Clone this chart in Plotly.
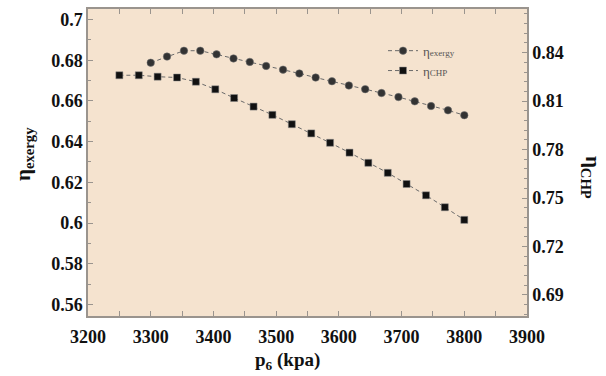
import plotly.graph_objects as go

# ---- data ----
p6_exergy = [3300, 3326, 3353, 3379, 3405, 3432, 3458, 3484, 3511, 3537,
             3563, 3589, 3616, 3642, 3668, 3695, 3721, 3747, 3774, 3800]
eta_exergy = [0.6788, 0.6818, 0.6847, 0.6847, 0.6829, 0.6809, 0.6792, 0.6772, 0.6754, 0.6735,
              0.6715, 0.6697, 0.6676, 0.6658, 0.6639, 0.6619, 0.6598, 0.6575, 0.6554, 0.6530]

p6_chp = [3250, 3281, 3311, 3342, 3372, 3403, 3433, 3464, 3494, 3525,
          3556, 3586, 3617, 3647, 3678, 3708, 3739, 3769, 3800]
eta_chp = [0.8260, 0.8260, 0.8251, 0.8246, 0.8220, 0.8173, 0.8119, 0.8066, 0.8015, 0.7957,
           0.7900, 0.7842, 0.7781, 0.7718, 0.7656, 0.7587, 0.7517, 0.7443, 0.7365]

x_ticks = [3200, 3300, 3400, 3500, 3600, 3700, 3800, 3900]
x_ticktext = ["3200", "3300", "3400", "3500", "3600", "3700", "3800", "3900"]
y1_ticks = [0.56, 0.58, 0.60, 0.62, 0.64, 0.66, 0.68, 0.70]
y1_ticktext = ["0.56", "0.58", "0.6", "0.62", "0.64", "0.66", "0.68", "0.7"]
y2_ticks = [0.69, 0.72, 0.75, 0.78, 0.81, 0.84]
y2_ticktext = ["0.69", "0.72", "0.75", "0.78", "0.81", "0.84"]

SERIF = "Times New Roman, Tinos, Liberation Serif, serif"
AXIS_COLOR = "#9a948e"
TICKFONT = dict(family=SERIF, size=18, color="#111111", weight="bold")

fig = go.Figure()
fig.add_trace(go.Scatter(
    x=p6_exergy, y=eta_exergy, mode="lines+markers",
    name="η<span style='font-size:9px'>exergy</span>",
    line=dict(color="#6a6a6a", width=1, dash="4px,3px"),
    marker=dict(symbol="circle", size=7.5, color="#333333",
                line=dict(color="#777777", width=0.5)),
    yaxis="y"))
fig.add_trace(go.Scatter(
    x=p6_chp, y=eta_chp, mode="lines+markers",
    name="η<span style='font-size:9px'>CHP</span>",
    line=dict(color="#6a6a6a", width=1, dash="4px,3px"),
    marker=dict(symbol="square", size=7, color="#111111",
                line=dict(color="#888888", width=0.5)),
    yaxis="y2"))

fig.update_layout(
    width=606, height=376,
    margin=dict(l=88, r=79, t=7, b=60),
    paper_bgcolor="white",
    plot_bgcolor="#f5e3cf",
    showlegend=True,
    legend=dict(x=0.672, y=0.913, xanchor="left", yanchor="top",
                bgcolor="rgba(0,0,0,0)", borderwidth=0,
                font=dict(family=SERIF, size=13, color="#555555"),
                tracegroupgap=0, itemwidth=30),
    xaxis=dict(range=[3200, 3900], tickvals=x_ticks, ticktext=x_ticktext,
               ticks="inside", ticklen=5, tickcolor=AXIS_COLOR, tickwidth=1,
               minor=dict(dtick=50, ticks="inside", ticklen=3, tickcolor=AXIS_COLOR),
               showline=True, linecolor=AXIS_COLOR, linewidth=1.5, mirror="allticks",
               showgrid=False, zeroline=False, ticklabelstandoff=4,
               tickfont=TICKFONT),
    yaxis=dict(range=[0.5543, 0.7052], tickvals=y1_ticks, ticktext=y1_ticktext,
               ticks="inside", ticklen=5, tickcolor=AXIS_COLOR, tickwidth=1,
               minor=dict(dtick=0.01, ticks="inside", ticklen=3, tickcolor=AXIS_COLOR),
               showline=True, linecolor=AXIS_COLOR, linewidth=1.5,
               showgrid=False, zeroline=False,
               tickfont=TICKFONT),
    yaxis2=dict(range=[0.677, 0.867], tickvals=y2_ticks, ticktext=y2_ticktext,
                overlaying="y", side="right",
                ticks="inside", ticklen=5, tickcolor=AXIS_COLOR, tickwidth=1,
                minor=dict(dtick=0.006, ticks="inside", ticklen=3, tickcolor=AXIS_COLOR),
                showline=True, linecolor=AXIS_COLOR, linewidth=1.5,
                showgrid=False, zeroline=False,
                tickfont=TICKFONT),
)

# axis titles
fig.add_annotation(text="<b>p<sub>6</sub> (kpa)</b>", xref="paper", yref="paper",
                   x=(287 - 88) / 439, y=-(361 - 316) / 309, showarrow=False,
                   xanchor="center", yanchor="middle",
                   font=dict(family=SERIF, size=19, color="#111111"))
fig.add_annotation(text="<b>η<sub>exergy</sub></b>", xref="paper", yref="paper",
                   x=-(88 - 24) / 439, y=(316 - 153) / 309, showarrow=False,
                   textangle=-90, xanchor="center", yanchor="middle",
                   font=dict(family=SERIF, size=21, color="#111111"))
fig.add_annotation(text="<b>η<sub>CHP</sub></b>", xref="paper", yref="paper",
                   x=1 + (592 - 527) / 439, y=(316 - 176) / 309, showarrow=False,
                   textangle=90, xanchor="center", yanchor="middle",
                   font=dict(family=SERIF, size=21, color="#111111"))

fig.write_html("out.html")
